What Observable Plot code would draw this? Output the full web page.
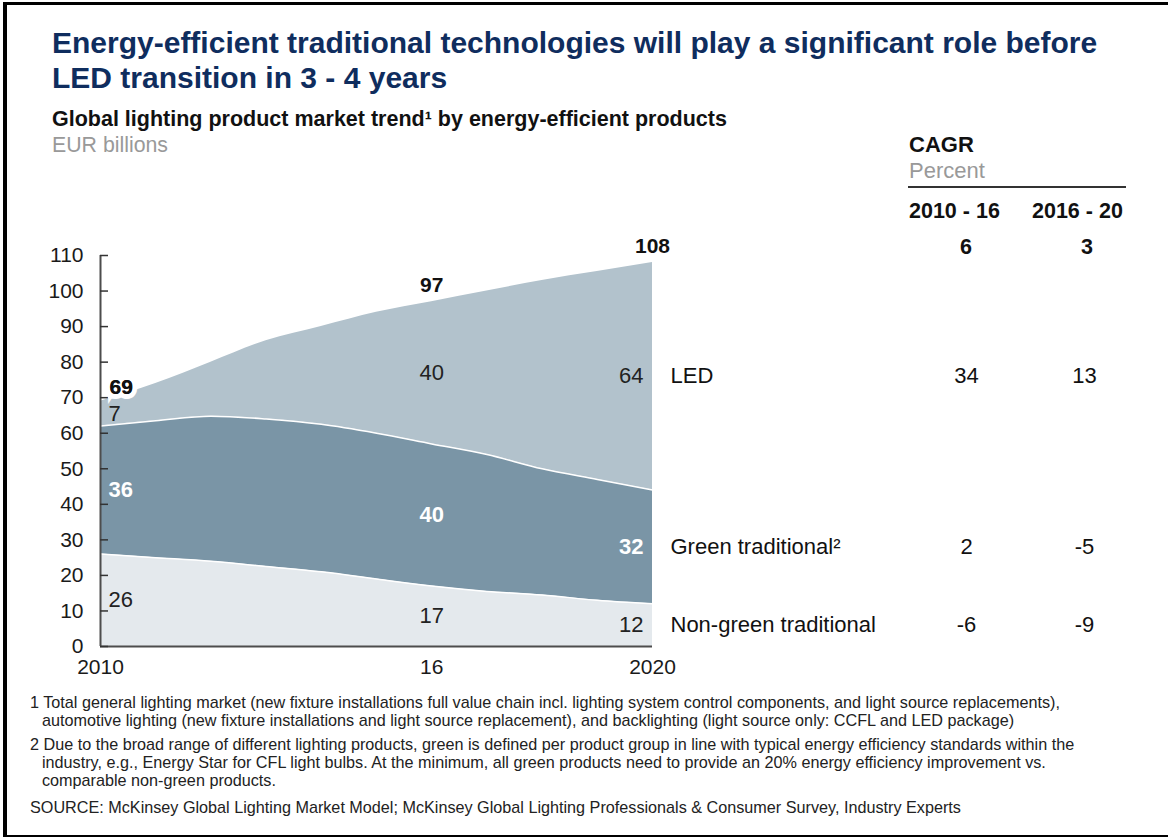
<!DOCTYPE html>
<html>
<head>
<meta charset="utf-8">
<script src="https://cdn.jsdelivr.net/npm/d3@7"></script>
<script src="https://cdn.jsdelivr.net/npm/@observablehq/plot@0.6"></script>
<style>
  html, body { margin: 0; padding: 0; background: #fff; }
  body { width: 1168px; height: 838px; position: relative; overflow: hidden; font-family: "Liberation Sans", Arial, sans-serif; color: #1a1a1a; }
  .frame { position: absolute; left: 3px; top: 2px; width: 1180px; height: 835px; border-left: 4px solid #000; border-top: 3px solid #000; border-bottom: 2px solid #000; box-sizing: border-box; }
  .abs { position: absolute; white-space: nowrap; }
  .title { left: 52px; top: 25px; font-size: 30px; font-weight: bold; color: #0f2d5e; line-height: 35px; }
  .subtitle { left: 52px; top: 107px; font-size: 21.5px; font-weight: bold; color: #111; line-height: 25px; }
  .unit { left: 52px; top: 133px; font-size: 21.3px; color: #999; line-height: 25px; }
  .cagr { left: 909px; top: 132px; font-size: 22px; font-weight: bold; color: #111; line-height: 25px; }
  .pct { left: 909px; top: 158px; font-size: 22px; color: #999; line-height: 25px; }
  .rule { left: 908px; top: 186px; width: 218px; height: 2px; background: #333; }
  .period { top: 199px; font-size: 21.5px; font-weight: bold; color: #111; line-height: 25px; }
  .tot { top: 235px; font-size: 21.5px; font-weight: bold; color: #111; line-height: 25px; transform: translateX(-50%); }
  #chart { position: absolute; left: 0; top: 200px; }
  .notes { left: 30px; top: 693px; font-size: 16.2px; color: #222; line-height: 18px; }
  .notes div { white-space: nowrap; }
  .notes .ind { padding-left: 12px; }
  .notes .gap { margin-top: 6px; }
  .src { left: 30px; top: 798px; font-size: 16.2px; color: #222; line-height: 18px; }
</style>
</head>
<body>
<div class="frame"></div>
<div class="abs title">Energy-efficient traditional technologies will play a significant role before<br>LED transition in 3 - 4 years</div>
<div class="abs subtitle">Global lighting product market trend¹ by energy-efficient products</div>
<div class="abs unit">EUR billions</div>
<div class="abs cagr">CAGR</div>
<div class="abs pct">Percent</div>
<div class="abs rule"></div>
<div id="periods"></div>
<div id="chart"></div>
<div class="abs notes">
  <div>1 Total general lighting market (new fixture installations full value chain incl. lighting system control components, and light source replacements),</div>
  <div class="ind">automotive lighting (new fixture installations and light source replacement), and backlighting (light source only: CCFL and LED package)</div>
  <div class="gap">2 Due to the broad range of different lighting products, green is defined per product group in line with typical energy efficiency standards within the</div>
  <div class="ind">industry, e.g., Energy Star for CFL light bulbs. At the minimum, all green products need to provide an 20% energy efficiency improvement vs.</div>
  <div class="ind">comparable non-green products.</div>
</div>
<div class="abs src">SOURCE: McKinsey Global Lighting Market Model; McKinsey Global Lighting Professionals &amp; Consumer Survey, Industry Experts</div>

<script>
// ---- Data ----
const years = [2010, 2011, 2012, 2013, 2014, 2015, 2016, 2017, 2018, 2019, 2020];
const nonGreen = [26, 25, 24, 22.5, 21, 19, 17, 15.5, 14.5, 13, 12];
const greenTraditional = [36, 38.5, 40.8, 41.5, 41.5, 41, 40, 38.5, 35.5, 34, 32];
const led = [7, 10.5, 15.2, 22, 27.5, 34, 40, 46, 53, 58.5, 64];
const seriesNames = ["Non-green traditional", "Green traditional", "LED"];
const seriesLabels = ["Non-green traditional", "Green traditional²", "LED"];
const seriesColors = ["#e4e9ed", "#7a95a6", "#b2c2cc"];
const labelYears = [2010, 2016, 2020];
const xTickLabels = ["2010", "16", "2020"];
const yTicks = [0, 10, 20, 30, 40, 50, 60, 70, 80, 90, 100, 110];
const cagrPeriods = ["2010 - 16", "2016 - 20"];
const cagrTotal = [6, 3];
const cagr2010_16 = [-6, 2, 34];
const cagr2016_20 = [-9, -5, 13];

// ---- CAGR header ----
const periodsDiv = document.getElementById("periods");
const periodLeft = [909, 1032];
const periodCenter = [966, 1087];
cagrPeriods.forEach((p, i) => {
  const d = document.createElement("div");
  d.className = "abs period"; d.style.left = periodLeft[i] + "px"; d.textContent = p;
  periodsDiv.appendChild(d);
  const t = document.createElement("div");
  t.className = "abs tot"; t.style.left = periodCenter[i] + "px"; t.textContent = cagrTotal[i];
  periodsDiv.appendChild(t);
});

// ---- Build table ----
const seriesValues = [nonGreen, greenTraditional, led];
const rows = [];
years.forEach((year, i) => {
  let base = 0;
  seriesValues.forEach((vals, s) => {
    const v = vals[i];
    rows.push({year, series: seriesNames[s], label: seriesLabels[s], value: v, y1: base, y2: base + v, mid: base + v / 2,
               c1: cagr2010_16[s], c2: cagr2016_20[s]});
    base += v;
  });
});
const totals = years.map((year, i) => ({year, total: nonGreen[i] + greenTraditional[i] + led[i]}));
const labelRows = rows.filter(d => labelYears.includes(d.year));
const font = "Liberation Sans, Arial, sans-serif";
const FS = 22;

const valueMarks = [];
const yearStyle = {2010: {dx: 8, anchor: "start"}, 2016: {dx: 0, anchor: "middle"}, 2020: {dx: -9, anchor: "end"}};
labelYears.forEach(y => {
  const st = yearStyle[y];
  valueMarks.push(Plot.text(labelRows.filter(d => d.year === y && d.series !== "Green traditional"),
    {x: "year", y: "mid", text: d => String(d.value), dx: st.dx, textAnchor: st.anchor, fill: "#222", fontSize: FS}));
  valueMarks.push(Plot.text(labelRows.filter(d => d.year === y && d.series === "Green traditional"),
    {x: "year", y: "mid", text: d => String(d.value), dx: st.dx, textAnchor: st.anchor, fill: "#fff", fontWeight: "bold", fontSize: FS}));
});

const lastRows = rows.filter(d => d.year === 2020);

const chart = Plot.plot({
  width: 1168,
  height: 500,
  marginLeft: 100,
  marginRight: 516,
  marginTop: 55,
  marginBottom: 54,
  style: {fontFamily: font, fontSize: "21px", color: "#1a1a1a", background: "transparent"},
  x: {domain: [2010, 2020], axis: null},
  y: {domain: [0, 110], axis: null},
  color: {domain: seriesNames, range: seriesColors},
  marks: [
    Plot.areaY(rows, {x: "year", y1: "y1", y2: "y2", fill: "series", z: "series", curve: "monotone-x"}),
    Plot.line(rows.filter(d => d.series !== "LED"), {x: "year", y: "y2", z: "series", stroke: "#fff", strokeWidth: 1.5, curve: "monotone-x"}),
    Plot.ruleY([0], {x1: 2010, x2: 2020, stroke: "#4d4d4d", strokeWidth: 2}),
    Plot.ruleX([2010], {y1: 0, y2: 110, stroke: "#4d4d4d", strokeWidth: 2}),
    Plot.axisY({ticks: yTicks, tickSize: -8, tickPadding: 25, stroke: "#333", strokeWidth: 1.5, fontSize: 21, fill: "#1a1a1a", label: null}),
    Plot.axisX({ticks: labelYears, tickFormat: d => xTickLabels[labelYears.indexOf(d)], tickSize: 0, tickPadding: 13, fontSize: 21, fill: "#1a1a1a", label: null}),
    ...valueMarks,
    // totals
    Plot.text(totals.filter(d => d.year === 2010), {x: "year", y: "total", text: d => String(d.total), dx: 9, dy: -14, textAnchor: "start", fontWeight: "bold", fontSize: 21, fill: "#111", stroke: "#fff", strokeWidth: 10, strokeLinejoin: "miter"}),
    Plot.text(totals.filter(d => d.year === 2010), {x: "year", y: "total", text: d => String(d.total), dx: 9, dy: -14, textAnchor: "start", fontWeight: "bold", fontSize: 21, fill: "#111"}),
    Plot.text(totals.filter(d => d.year === 2016 || d.year === 2020), {x: "year", y: "total", text: d => String(d.total), textAnchor: "middle", fontWeight: "bold", fontSize: 21, fill: "#111", dy: -16}),
    // series labels & CAGR values
    Plot.text(lastRows, {x: "year", y: "mid", text: "label", dx: 18, textAnchor: "start", fontSize: FS, fill: "#111"}),
    Plot.text(lastRows, {x: "year", y: "mid", text: d => String(d.c1), dx: 314, textAnchor: "middle", fontSize: FS, fill: "#111"}),
    Plot.text(lastRows, {x: "year", y: "mid", text: d => String(d.c2), dx: 432, textAnchor: "middle", fontSize: FS, fill: "#111"})
  ]
});
document.getElementById("chart").appendChild(chart);
</script>
</body>
</html>
